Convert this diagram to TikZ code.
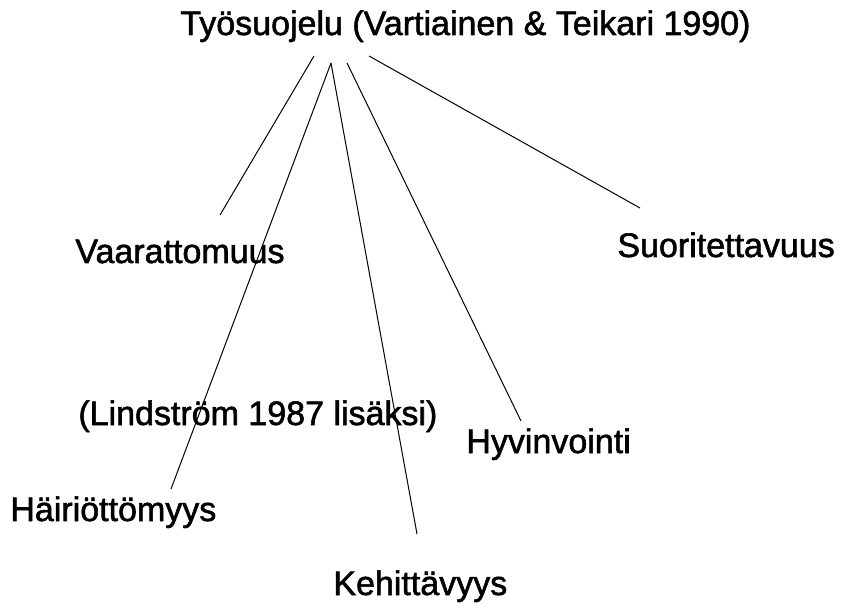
\documentclass[tikz,border=0pt]{standalone}
\usepackage{fontspec}
\setmainfont[FakeBold=1.6]{Liberation Sans}
\begin{document}
\begin{tikzpicture}[x=0.5bp,y=-0.5bp,
  lbl/.style={anchor=base west, inner sep=0pt, font=\fontsize{17bp}{20bp}\selectfont},
  spoke/.style={draw=black, line width=0.5bp}]
\useasboundingbox (0,0) rectangle (847,608);

% labels
\node[lbl] (title) at (180,35)  {Työsuojelu (Vartiainen \& Teikari 1990)};
\node[lbl] (vaar)  at (75,263)  {Vaarattomuus};
\node[lbl] (suor)  at (617,257) {Suoritettavuus};
\node[lbl] (lind)  at (78,425)  {(Lindström 1987 lisäksi)};
\node[lbl] (hyv)   at (466,453) {Hyvinvointi};
\node[lbl] (hair)  at (10,521)  {Häiriöttömyys};
\node[lbl] (keh)   at (333,595) {Kehittävyys};

% spoke ends below the title
\coordinate (tA) at (314,56);
\coordinate (tB) at (331,63);
\coordinate (tC) at (347,63);
\coordinate (tD) at (369,56);

% spoke ends near the labels
\coordinate (eVaar) at (220,215);
\coordinate (eHair) at (171,489);
\coordinate (eKeh)  at (417,534);
\coordinate (eHyv)  at (521,421);
\coordinate (eSuor) at (640,208);

\draw[spoke] (tA) -- (eVaar);
\draw[spoke] (tB) -- (eHair);
\draw[spoke] (tB) -- (eKeh);
\draw[spoke] (tC) -- (eHyv);
\draw[spoke] (tD) -- (eSuor);
\end{tikzpicture}
\end{document}
